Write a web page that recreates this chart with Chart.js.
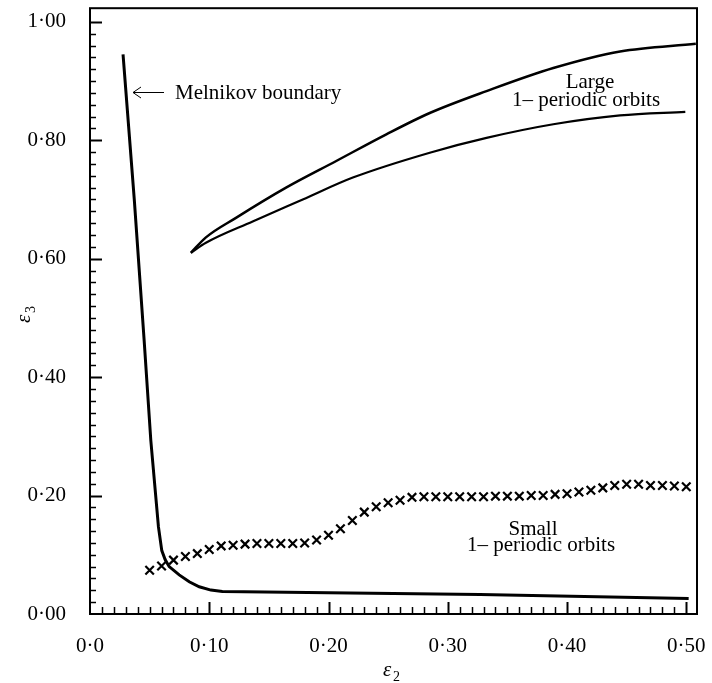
<!DOCTYPE html>
<html>
<head>
<meta charset="utf-8">
<script src="https://cdn.jsdelivr.net/npm/chart.js@4.4.1/dist/chart.umd.min.js"></script>
<style>
  html, body { margin: 0; padding: 0; background: #fff; }
  #wrap { width: 712px; height: 683px; }
</style>
</head>
<body>
<div id="wrap"><canvas id="chart" width="712" height="683"></canvas></div>
<script>
// Melnikov boundary
const melX = [0.0277, 0.0372, 0.0454, 0.051, 0.0574, 0.0602, 0.0630, 0.0664, 0.0748, 0.0832, 0.0916, 0.1014, 0.111, 0.20, 0.327, 0.502];
const melY = [0.945, 0.698, 0.462, 0.293, 0.147, 0.107, 0.092, 0.080, 0.066, 0.0544, 0.046, 0.0404, 0.038, 0.036, 0.033, 0.026];

// Large 1-periodic orbits (two branches)
const largeUpX = [0.0846, 0.0972, 0.1224, 0.1644, 0.2065, 0.2485, 0.2849, 0.3325, 0.3885, 0.4445, 0.508];
const largeUpY = [0.610, 0.636, 0.669, 0.720, 0.765, 0.810, 0.846, 0.883, 0.922, 0.950, 0.963];
const largeLoX = [0.0846, 0.0972, 0.1364, 0.1784, 0.2204, 0.2849, 0.3325, 0.3885, 0.4445, 0.4992];
const largeLoY = [0.610, 0.627, 0.663, 0.700, 0.737, 0.779, 0.804, 0.827, 0.842, 0.848];

// Small 1-periodic orbits (crosses)
const smallX = [0.05, 0.06, 0.07, 0.08, 0.09, 0.10, 0.11, 0.12, 0.13, 0.14, 0.15, 0.16, 0.17, 0.18, 0.19,
                0.20, 0.21, 0.22, 0.23, 0.24, 0.25, 0.26, 0.27, 0.28, 0.29, 0.30, 0.31, 0.32, 0.33, 0.34,
                0.35, 0.36, 0.37, 0.38, 0.39, 0.40, 0.41, 0.42, 0.43, 0.44, 0.45, 0.46, 0.47, 0.48, 0.49, 0.50];
const smallY = [0.074, 0.081, 0.091, 0.097, 0.102, 0.109, 0.115, 0.116, 0.118, 0.119, 0.119, 0.119, 0.119, 0.120, 0.125,
                0.133, 0.144, 0.158, 0.172, 0.181, 0.188, 0.192, 0.197, 0.198, 0.198, 0.198, 0.198, 0.198, 0.198, 0.199,
                0.199, 0.199, 0.200, 0.200, 0.202, 0.203, 0.206, 0.209, 0.213, 0.217, 0.219, 0.219, 0.217, 0.217, 0.216, 0.215];

// tick labels
const xTicks = [0, 0.1, 0.2, 0.3, 0.4, 0.5];
const yTicks = [0, 0.2, 0.4, 0.6, 0.8, 1.0];
const xLabels = ["0·0", "0·10", "0·20", "0·30", "0·40", "0·50"];
const yLabels = ["0·00", "0·20", "0·40", "0·60", "0·80", "1·00"];

const FONT = "'Liberation Serif', 'Times New Roman', serif";
Chart.defaults.font.family = FONT;
Chart.defaults.color = "#000";

function pts(xs, ys) {
    return xs.map((x, i) => ({ x: x, y: ys[i] }));
}

// no extra room for overhanging tick labels
function noPad(s) {
    s.paddingTop = 0;
    s.paddingBottom = 0;
    s.paddingLeft = 0;
    s.paddingRight = 0;
}

// inward ticks, frame, annotations
const decorations = {
    id: "decorations",
    beforeDraw(chart) {
        const c = chart.ctx;
        c.save();
        c.fillStyle = "#fff";
        c.fillRect(0, 0, chart.width, chart.height);
        c.restore();
    },
    afterDraw(chart) {
        const c = chart.ctx;
        const a = chart.chartArea;
        const xs = chart.scales.x, ys = chart.scales.y;
        c.save();
        c.strokeStyle = "#000";

        // minor + major ticks on x
        for (let i = 1; i <= 50; i++) {
            const px = Math.round(xs.getPixelForValue(i / 100)) + 0.5;
            const major = i % 10 === 0;
            c.lineWidth = major ? 2 : 1.5;
            c.beginPath();
            c.moveTo(px, a.bottom);
            c.lineTo(px, a.bottom - (major ? 12 : 7));
            c.stroke();
        }
        // minor + major ticks on y
        for (let i = 1; i <= 50; i++) {
            const py = Math.round(ys.getPixelForValue(i / 50)) + 0.5;
            const major = i % 10 === 0;
            c.lineWidth = major ? 2 : 1.5;
            c.beginPath();
            c.moveTo(a.left, py);
            c.lineTo(a.left + (major ? 12 : 6), py);
            c.stroke();
        }

        // frame
        c.lineWidth = 2;
        c.strokeRect(a.left, a.top, a.right - a.left, a.bottom - a.top);

        // annotations
        c.fillStyle = "#000";
        c.font = "21px " + FONT;
        c.textBaseline = "alphabetic";
        c.textAlign = "left";
        c.fillText("Melnikov boundary", 175, 99);

        // arrow
        c.lineWidth = 1;
        c.beginPath();
        c.moveTo(133, 92.5);
        c.lineTo(164, 92.5);
        c.moveTo(141, 87);
        c.lineTo(133, 92.5);
        c.lineTo(141, 98);
        c.stroke();

        c.textAlign = "center";
        c.fillText("Large", 590, 88);
        c.fillText("1\u2013 periodic orbits", 586, 106);
        c.fillText("Small", 533, 535);
        c.fillText("1\u2013 periodic orbits", 541, 551);

        // axis titles
        c.textAlign = "left";
        c.font = "italic 21px " + FONT;
        c.fillText("\u03b5", 383, 676);
        c.font = "14px " + FONT;
        c.fillText("2", 393, 681);

        c.translate(30, 323);
        c.rotate(-Math.PI / 2);
        c.font = "italic 21px " + FONT;
        c.fillText("\u03b5", 0, 0);
        c.font = "14px " + FONT;
        c.fillText("3", 10, 5);
        c.restore();
    }
};

const lineStyle = { showLine: true, pointRadius: 0, borderColor: "#000", fill: false };

new Chart(document.getElementById("chart"), {
    type: "scatter",
    data: {
        datasets: [
            Object.assign({ label: "Melnikov boundary", data: pts(melX, melY), borderWidth: 3, tension: 0 }, lineStyle),
            Object.assign({ label: "Large upper", data: pts(largeUpX, largeUpY), borderWidth: 2.5, cubicInterpolationMode: "monotone" }, lineStyle),
            Object.assign({ label: "Large lower", data: pts(largeLoX, largeLoY), borderWidth: 2.2, cubicInterpolationMode: "monotone" }, lineStyle),
            {
                label: "Small orbits",
                data: pts(smallX, smallY),
                showLine: false,
                pointStyle: "crossRot",
                pointRadius: 6,
                borderWidth: 2.2,
                borderColor: "#000"
            }
        ]
    },
    options: {
        responsive: false,
        animation: false,
        layout: { padding: { top: 7, right: 15, left: 0, bottom: 0 } },
        plugins: { legend: { display: false }, tooltip: { enabled: false } },
        scales: {
            x: {
                type: "linear",
                min: 0,
                max: 0.509,
                grid: { display: false },
                border: { display: false },
                afterBuildTicks: (s) => { s.ticks = xTicks.map(v => ({ value: v })); },
                afterFit: (s) => { s.height = 69; noPad(s); },
                ticks: {
                    padding: 12,
                    maxRotation: 0,
                    font: { size: 21 },
                    callback: (v) => xLabels[xTicks.findIndex(t => Math.abs(t - v) < 1e-6)]
                }
            },
            y: {
                type: "linear",
                min: 0,
                max: 1.023,
                grid: { display: false },
                border: { display: false },
                afterBuildTicks: (s) => { s.ticks = yTicks.map(v => ({ value: v })); },
                afterFit: (s) => { s.width = 90; noPad(s); },
                ticks: {
                    padding: 16,
                    font: { size: 21 },
                    callback: (v) => yLabels[yTicks.findIndex(t => Math.abs(t - v) < 1e-6)]
                }
            }
        }
    },
    plugins: [decorations]
});
</script>
</body>
</html>
